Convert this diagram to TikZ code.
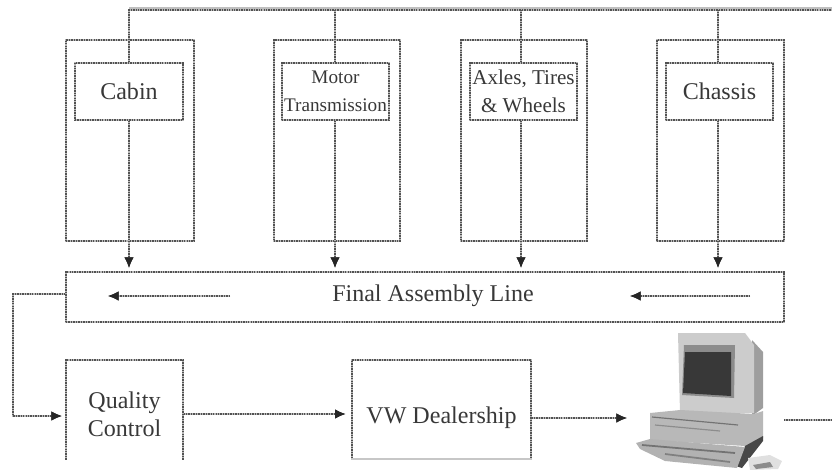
\documentclass[tikz,border=0pt]{standalone}
\usepackage{fontspec}
\setmainfont{Liberation Serif}
\usetikzlibrary{arrows.meta}
\tikzset{
  line/.style={draw=black!68, line width=0.9pt, dash pattern=on 1.2pt off 0.9pt,
    preaction={draw=black!28, line width=2.2pt, solid}},
  box/.style={line, inner sep=0pt, align=center, font=\fontsize{20.5}{24}\selectfont, text=black!78},
  label/.style={inner sep=0pt, align=center, font=\fontsize{20.5}{24}\selectfont, text=black!78},
  arrow/.style={line, -{Latex[length=9pt,width=8pt,black!85]}},
  part/.style={draw=none, fill=#1}
}
\begin{document}
\begin{tikzpicture}[x=0.03cm, y=-0.03cm]
    \useasboundingbox (0, 0) rectangle (832, 471);
    % top feed
    \coordinate (feedleft) at (129, 10);
    \coordinate (feedright) at (832, 10);
    \coordinate (feedmotor) at (335, 10);
    \coordinate (feedaxles) at (521, 10);
    \coordinate (feedchassis) at (718, 10);
    % outer boxes
    \node[box, minimum width=3.84cm, minimum height=6.03cm] (cabout) at (130, 140.5) {};
    \node[box, minimum width=3.78cm, minimum height=6.03cm] (motout) at (337, 140.5) {};
    \node[box, minimum width=3.78cm, minimum height=6.03cm] (axlout) at (524, 140.5) {};
    \node[box, minimum width=3.81cm, minimum height=6.03cm] (chaout) at (720.5, 140.5) {};
    % inner boxes
    \node[box, minimum width=3.24cm, minimum height=1.71cm] (cab) at (129, 91.5) {Cabin};
    \node[box, minimum width=3.21cm, minimum height=1.71cm] (mot) at (335.5, 91.5)
      {\fontsize{16.4}{24}\selectfont Motor\\\fontsize{16.4}{24}\selectfont Transmission};
    \node[box, minimum width=3.21cm, minimum height=1.71cm] (axl) at (523.5, 91.5)
      {\fontsize{18}{25}\selectfont Axles, Tires\\\fontsize{18}{25}\selectfont \& Wheels};
    \node[box, minimum width=3.21cm, minimum height=1.71cm] (cha) at (719.5, 91.5) {Chassis};
    % assembly line
    \node[box, minimum width=21.54cm, minimum height=1.5cm] (line) at (425, 297) {};
    \node[label] (linetxt) at (433, 296) {Final Assembly Line};
    \coordinate (leftfrom) at (230, 296);
    \coordinate (leftto) at (108, 296);
    \coordinate (rightfrom) at (750, 296);
    \coordinate (rightto) at (630, 296);
    % lower row
    \node[box, minimum width=3.51cm, minimum height=3.24cm] (qual) at (124.5, 414)
      {Quality\\Control};
    \node[box, minimum width=5.37cm, minimum height=3.48cm] (deal) at (441.5, 418)
      {VW Dealership};
    \coordinate (pcin) at (627, 418);
    \coordinate (pcout) at (784, 420);
    \coordinate (exit) at (832, 420);
    \coordinate (elbowtop) at (13, 294);
    \coordinate (elbowlow) at (13, 416);
    % computer
    \fill[part=black!38] (752, 340) -- (763, 352) -- (763, 408) -- (752, 416) -- cycle;
    \fill[part=black!20] (678, 333) -- (745, 333) -- (754, 345) -- (754, 413) -- (680, 413) -- cycle;
    \fill[part=black!45] (684, 345) -- (735, 345) -- (734, 398) -- (682, 395) -- cycle;
    \fill[part=black!78] (685, 352) -- (731, 352) -- (731, 396) -- (683, 393) -- cycle;
    \fill[part=black!28] (650, 413) -- (680, 410) -- (754, 414) -- (763, 411) -- (763, 438)
      -- (745, 446) -- (650, 440) -- cycle;
    \draw[black!55, line width=1pt] (652, 417) -- (738, 425);
    \draw[black!45, line width=1pt] (655, 425) -- (720, 431);
    \fill[part=black!72] (763, 436) -- (763, 441) -- (742, 468) -- (736, 466) -- (745, 446) -- cycle;
    \fill[part=black!30] (636, 443) -- (650, 439) -- (745, 447) -- (737, 468) -- (665, 461)
      -- (640, 449) -- cycle;
    \draw[black!55, line width=1.5pt] (642, 445) -- (735, 453);
    \draw[black!50, line width=1.5pt] (665, 454) -- (730, 462);
    \fill[part=black!12] (748, 458) -- (770, 455) -- (782, 461) -- (778, 469) -- (750, 470) -- cycle;
    \fill[part=black!45] (753, 465) -- (770, 462) -- (773, 467) -- (756, 469) -- cycle;
    % connectors
    \draw[draw=black!25, line width=2pt] (129, 8) -- (832, 8);
    \draw[line] (cab.north) -- (feedleft) -- (feedright);
    \draw[line] (mot.north -| feedmotor) -- (feedmotor);
    \draw[line] (axl.north -| feedaxles) -- (feedaxles);
    \draw[line] (cha.north -| feedchassis) -- (feedchassis);
    \draw[arrow, shorten >=3pt] (cab.south) -- (cab.south |- line.north);
    \draw[arrow, shorten >=3pt] (mot.south -| feedmotor) -- (feedmotor |- line.north);
    \draw[arrow, shorten >=3pt] (axl.south -| feedaxles) -- (feedaxles |- line.north);
    \draw[arrow, shorten >=3pt] (cha.south -| feedchassis) -- (feedchassis |- line.north);
    \draw[arrow] (leftfrom) -- (leftto);
    \draw[arrow] (rightfrom) -- (rightto);
    \draw[arrow] (line.west |- elbowtop) -- (elbowtop) -- (elbowlow) -- ([xshift=-3pt]elbowlow -| qual.west);
    \draw[arrow] (qual.east |- 0, 414) -- ([xshift=-5pt]deal.west |- 0, 414);
    \draw[arrow] (deal.east |- pcin) -- (pcin);
    \draw[line] (pcout) -- (exit);
    % crop at the bottom of the scan
    \fill[white] (0, 460) rectangle (600, 480);
    \draw[draw=black!22, line width=1.6pt] (deal.west |- 0, 459) -- (deal.east |- 0, 459);
  \end{tikzpicture}
\end{document}
